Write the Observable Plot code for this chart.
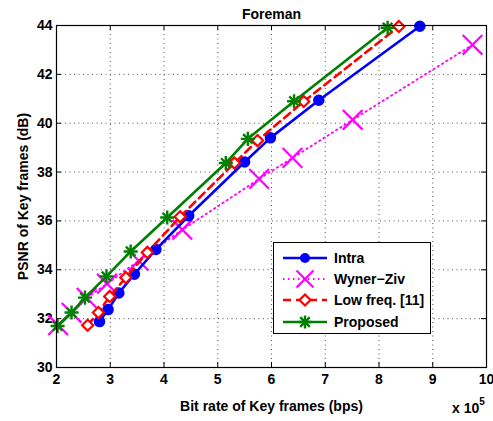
<!DOCTYPE html>
<html>
<head>
<meta charset="utf-8">
<script src="https://cdn.jsdelivr.net/npm/d3@7"></script>
<script src="https://cdn.jsdelivr.net/npm/@observablehq/plot@0.6"></script>
<style>
  html, body { margin: 0; padding: 0; background: #fff; }
  #wrap { position: relative; width: 493px; height: 421px; font-family: "Liberation Sans", Arial, Helvetica, sans-serif; }
  #wrap svg text { font-weight: bold; }
  #legend { position: absolute; left: 273px; top: 242px; width: 158px; height: 92px; border: 1.5px solid #000; background: #fff; box-sizing: border-box; }
  #legend .row { position: absolute; left: 0; height: 20px; display: flex; align-items: center; }
  #legend .row span { font-weight: bold; font-size: 14px; color: #000; margin-left: 4px; white-space: nowrap; }
  #xexp { position: absolute; left: 452px; top: 398px; font-weight: bold; font-size: 14px; white-space: nowrap; }
  #xexp sup { font-size: 10px; position: relative; top: -2px; }
</style>
</head>
<body>
<div id="wrap"></div>
<script>
// ---- data (bit rate in units of 10^5 bps, PSNR in dB) ----
const title = "Foreman";
const xLabel = "Bit rate of Key frames (bps)";
const yLabel = "PSNR of Key frames (dB)";
const xTicks = [2, 3, 4, 5, 6, 7, 8, 9, 10];
const yTicks = [30, 32, 34, 36, 38, 40, 42, 44];
const seriesNames = ["Intra", "Wyner\u2212Ziv", "Low freq. [11]", "Proposed"];

const intraRate = [2.80, 2.96, 3.16, 3.45, 3.85, 4.46, 5.50, 5.98, 6.88, 8.76];
const intraPSNR = [31.88, 32.37, 33.05, 33.82, 34.83, 36.21, 38.41, 39.40, 40.94, 43.97];

const wzRate = [2.03, 2.28, 2.56, 2.94, 3.53, 4.34, 5.77, 6.39, 7.51, 9.74];
const wzPSNR = [31.73, 32.24, 32.85, 33.43, 34.37, 35.64, 37.72, 38.58, 40.14, 43.21];

const lowRate = [2.58, 2.78, 2.99, 3.29, 3.69, 4.30, 5.31, 5.74, 6.60, 8.37];
const lowPSNR = [31.73, 32.25, 32.91, 33.68, 34.71, 36.17, 38.37, 39.29, 40.89, 43.96];

const propRate = [2.02, 2.28, 2.53, 2.93, 3.38, 4.06, 5.15, 5.56, 6.42, 8.16];
const propPSNR = [31.70, 32.25, 32.86, 33.73, 34.75, 36.14, 38.37, 39.36, 40.90, 43.91];

// ---- build tables ----
const toRows = (xs, ys) => xs.map((x, i) => ({x, y: ys[i]}));
const intra = toRows(intraRate, intraPSNR);
const wz = toRows(wzRate, wzPSNR);
const low = toRows(lowRate, lowPSNR);
const prop = toRows(propRate, propPSNR);

const W = 493, H = 421;
const mTop = 25, mBottom = 54, mLeft = 56, mRight = 7;
const fw = W - mLeft - mRight, fh = H - mTop - mBottom;
const tickLen = 5;

const colors = {intra: "#0000ff", wz: "#ff00ff", low: "#ff0000", prop: "#008000"};

const chart = Plot.plot({
  width: W, height: H,
  marginTop: mTop, marginBottom: mBottom, marginLeft: mLeft, marginRight: mRight,
  style: {fontFamily: "'Liberation Sans', Arial, Helvetica, sans-serif", fontSize: "14px", fontWeight: "bold", color: "#000", background: "#fff"},
  x: {domain: [2, 10]},
  y: {domain: [30, 44]},
  marks: [
    Plot.gridX(xTicks, {stroke: "#333", strokeOpacity: 0.85, strokeWidth: 1, strokeDasharray: "1,3.5"}),
    Plot.gridY(yTicks, {stroke: "#333", strokeOpacity: 0.85, strokeWidth: 1, strokeDasharray: "1,3.5"}),
    // inward ticks (MATLAB style)
    Plot.ruleX(xTicks, {insetTop: fh - tickLen, stroke: "#000"}),
    Plot.ruleX(xTicks, {insetBottom: fh - tickLen, stroke: "#000"}),
    Plot.ruleY(yTicks, {insetRight: fw - tickLen, stroke: "#000"}),
    Plot.ruleY(yTicks, {insetLeft: fw - tickLen, stroke: "#000"}),
    Plot.axisX(xTicks, {tickSize: 0, tickPadding: 7, fontSize: 14, fontWeight: "bold", label: xLabel, labelAnchor: "center", labelOffset: 43, labelArrow: "none"}),
    Plot.axisY(yTicks, {tickSize: 0, tickPadding: 4, fontSize: 14, fontWeight: "bold", label: yLabel, labelAnchor: "center", labelOffset: 38, labelArrow: "none"}),
    // Wyner-Ziv
    Plot.line(wz, {x: "x", y: "y", stroke: colors.wz, strokeWidth: 1.8, strokeDasharray: "1.5,3.5"}),
    Plot.dot(wz, {x: "x", y: "y", symbol: "times", r: 9, stroke: colors.wz, strokeWidth: 2.2}),
    // Intra
    Plot.line(intra, {x: "x", y: "y", stroke: colors.intra, strokeWidth: 2.6}),
    Plot.dot(intra, {x: "x", y: "y", r: 5, fill: colors.intra, stroke: colors.intra}),
    // Low freq
    Plot.line(low, {x: "x", y: "y", stroke: colors.low, strokeWidth: 2.6, strokeDasharray: "8,5"}),
    Plot.dot(low, {x: "x", y: "y", symbol: "diamond2", r: 5, fill: "#fff", stroke: colors.low, strokeWidth: 2.2}),
    // Proposed
    Plot.line(prop, {x: "x", y: "y", stroke: colors.prop, strokeWidth: 2.6}),
    Plot.dot(prop, {x: "x", y: "y", symbol: "plus", r: 4.6, stroke: colors.prop, strokeWidth: 2.4}),
    Plot.dot(prop, {x: "x", y: "y", symbol: "times", r: 4.4, stroke: colors.prop, strokeWidth: 2.4}),
    Plot.frame({stroke: "#000", strokeWidth: 1.2}),
    Plot.text([title], {frameAnchor: "top", dy: -16, fontSize: 14, fontWeight: "bold", fill: "#000"})
  ]
});

const wrap = document.getElementById("wrap");
wrap.appendChild(chart);

// ---- legend (HTML overlay) ----
const legend = document.createElement("div");
legend.id = "legend";
wrap.appendChild(legend);
const legendDefs = [
  {name: seriesNames[0], color: colors.intra, dash: null, width: 2.6, marker: "circle"},
  {name: seriesNames[1], color: colors.wz, dash: "1.5,3.5", width: 1.8, marker: "times"},
  {name: seriesNames[2], color: colors.low, dash: "8,5", width: 2.6, marker: "diamond"},
  {name: seriesNames[3], color: colors.prop, dash: null, width: 2.6, marker: "asterisk"}
];
const rowCenters = [15, 36, 57, 79];
legendDefs.forEach((d, i) => {
  const row = document.createElement("div");
  row.className = "row";
  row.style.top = (rowCenters[i] - 10) + "px";
  const svg = d3.create("svg").attr("width", 56).attr("height", 20);
  svg.append("line").attr("x1", 9).attr("x2", 53).attr("y1", 10).attr("y2", 10)
    .attr("stroke", d.color).attr("stroke-width", d.width)
    .attr("stroke-dasharray", d.dash);
  const g = svg.append("g").attr("transform", "translate(31,10)");
  if (d.marker === "circle") {
    g.append("circle").attr("r", 5).attr("fill", d.color);
  } else if (d.marker === "times") {
    g.append("path").attr("d", "M-8.5,-8.5L8.5,8.5M-8.5,8.5L8.5,-8.5").attr("stroke", d.color).attr("stroke-width", 2.2);
  } else if (d.marker === "diamond") {
    g.append("path").attr("d", "M0,-5.5L5.5,0L0,5.5L-5.5,0Z").attr("fill", "#fff").attr("stroke", d.color).attr("stroke-width", 2.2);
  } else {
    g.append("path").attr("d", "M0,-6.5L0,6.5M-6.5,0L6.5,0M-4.8,-4.8L4.8,4.8M-4.8,4.8L4.8,-4.8").attr("stroke", d.color).attr("stroke-width", 2.4);
  }
  row.appendChild(svg.node());
  const span = document.createElement("span");
  span.textContent = d.name;
  row.appendChild(span);
  legend.appendChild(row);
});

// ---- x-axis multiplier ----
const exp = document.createElement("div");
exp.id = "xexp";
exp.innerHTML = "x 10<sup>5</sup>";
wrap.appendChild(exp);
</script>
</body>
</html>
